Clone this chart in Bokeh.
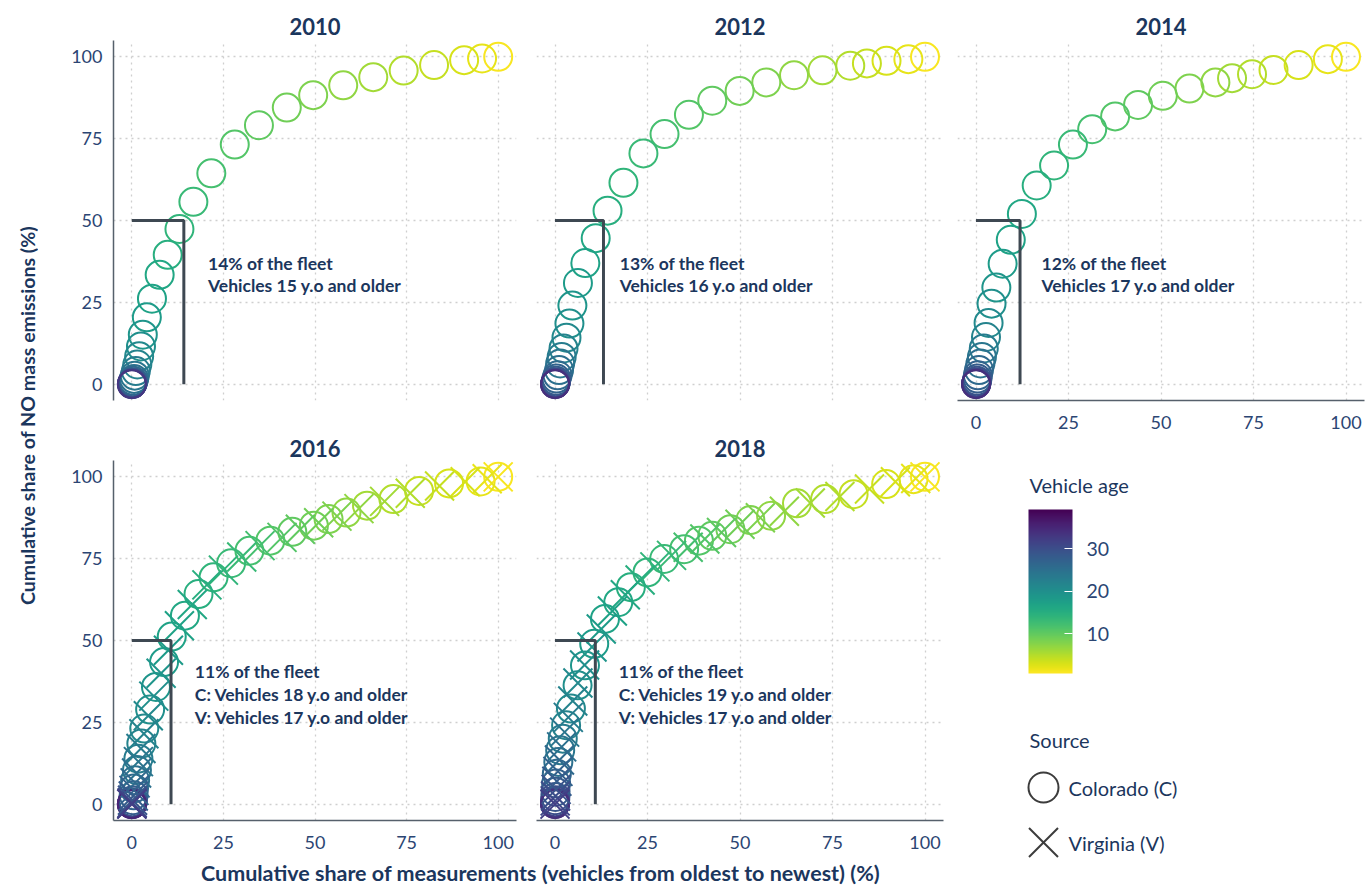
import math
from bokeh.plotting import figure
from bokeh.models import (ColumnDataSource, LinearAxis, Grid, FixedTicker, Range1d,
                          LinearColorMapper, ColorBar)
from bokeh.layouts import row, column
from bokeh.palettes import Viridis256
from bokeh.core.properties import value
from bokeh.embed import file_html
from bokeh.resources import INLINE

# ------------------------------------------------------------------ data
years = ["2010", "2012", "2014", "2016", "2018"]

# Colorado (C): cumulative share of measurements (x) and of NO mass emissions (y),
# one point per vehicle age, newest (age 1) first
co_2010_x = [100, 95.6, 90.7, 82.5, 74.2, 65.9, 57.7, 49.5, 42.3, 34.7,
             28.1, 21.7, 16.8, 13.0, 9.8, 7.6, 5.5, 4.1, 3.0, 2.5,
             2.0, 1.5, 1.1, 0.8, 0.6, 0.4, 0.3, 0.2, 0.15, 0.1,
             0.05, 0.02, 0.0]
co_2010_y = [100, 99.5, 99.0, 97.5, 95.8, 93.8, 91.3, 88.3, 84.5, 79.1,
             73.2, 64.4, 55.7, 47.4, 39.5, 33.4, 26.1, 20.4, 15.1, 11.5,
             8.5, 6.0, 4.0, 2.6, 1.6, 1.0, 0.6, 0.4, 0.25, 0.15,
             0.08, 0.03, 0.0]

co_2012_x = [100, 95.5, 89.6, 84.3, 79.8, 72.3, 64.6, 57.1, 49.9, 42.5,
             36.2, 29.6, 23.9, 18.5, 14.2, 11.0, 8.2, 6.2, 4.7, 3.9,
             3.1, 2.3, 1.8, 1.4, 1.1, 0.7, 0.4, 0.3, 0.2, 0.15,
             0.1, 0.05, 0.02, 0.0]
co_2012_y = [100, 99.3, 98.8, 98.0, 97.3, 95.9, 94.4, 92.2, 89.6, 86.6,
             82.3, 76.4, 70.5, 61.5, 53.0, 44.6, 37.0, 30.9, 24.0, 18.5,
             14.2, 10.9, 8.3, 6.3, 4.3, 2.7, 1.7, 1.0, 0.6, 0.35,
             0.2, 0.1, 0.04, 0.0]

co_2014_x = [100, 95.1, 87.2, 80.4, 74.6, 69.2, 64.7, 57.7, 50.5, 43.8,
             37.6, 31.4, 26.2, 21.1, 16.4, 12.4, 9.4, 7.2, 5.5, 4.2,
             3.4, 2.7, 2.1, 1.6, 1.2, 0.8, 0.5, 0.4, 0.25, 0.15,
             0.1, 0.05, 0.02, 0.0]
co_2014_y = [100, 99.3, 97.5, 96.0, 94.7, 93.5, 92.2, 90.3, 88.1, 85.3,
             81.8, 77.9, 73.2, 66.8, 60.7, 52.0, 44.1, 36.8, 29.5, 24.6,
             18.7, 14.4, 10.9, 8.3, 6.3, 4.3, 2.7, 1.7, 1.0, 0.6,
             0.3, 0.15, 0.05, 0.0]

co_2016_x = [100, 95.2, 86.6, 78.4, 71.4, 64.2, 58.6, 53.7, 49.7, 43.8,
             37.8, 32.1, 27.1, 22.3, 18.2, 14.5, 10.9, 8.8, 6.6, 5.0,
             3.4, 2.6, 1.8, 1.4, 0.9, 0.6, 0.5, 0.3, 0.2, 0.15,
             0.1, 0.05, 0.02, 0.0, 0.0]
co_2016_y = [100, 98.6, 98.0, 95.7, 93.2, 91.2, 89.1, 87.1, 85.1, 83.2,
             80.5, 77.4, 73.6, 69.3, 64.2, 57.6, 51.2, 43.4, 35.8, 28.9,
             23.1, 18.5, 13.9, 10.4, 7.3, 4.8, 2.7, 1.2, 0.6, 0.3,
             0.15, 0.08, 0.03, 0.01, 0.0]

co_2018_x = [100, 96.9, 89.5, 80.7, 73.0, 65.4, 58.4, 52.8, 47.4, 42.5,
             38.9, 34.9, 29.5, 25.0, 20.5, 17.1, 13.5, 10.6, 8.1, 6.1,
             4.3, 3.0, 2.1, 1.4, 0.9, 0.5, 0.3, 0.15, 0.1, 0.05,
             0.03, 0.02, 0.01, 0.0]
co_2018_y = [100, 99.3, 97.8, 94.7, 93.2, 91.9, 88.1, 86.8, 84.0, 82.0,
             80.5, 77.9, 74.9, 70.8, 66.3, 61.7, 56.6, 49.0, 42.4, 36.3,
             29.2, 24.1, 20.0, 16.5, 12.9, 9.3, 6.3, 3.8, 2.2, 1.2,
             0.6, 0.3, 0.1, 0.0]

# Virginia (V)
va_2016_x = [100, 97.0, 91.0, 84.0, 76.0, 69.0, 62.0, 56.0, 51.0, 46.0,
             41.0, 35.0, 30.0, 25.0, 20.5, 16.5, 13.0, 10.0, 8.0, 6.0,
             4.5, 3.3, 2.5, 1.8, 1.3, 0.9, 0.6, 0.4, 0.2, 0.1,
             0.05, 0.0]
va_2016_y = [100, 99.4, 98.5, 97.2, 95.0, 92.5, 90.3, 88.0, 86.0, 84.0,
             81.5, 79.0, 75.5, 71.5, 67.0, 61.0, 54.5, 47.0, 40.0, 33.0,
             27.0, 21.5, 17.0, 13.0, 9.5, 6.5, 4.2, 2.5, 1.2, 0.4,
             0.1, 0.0]

va_2018_x = [100, 97.5, 92.0, 85.0, 77.0, 69.0, 62.0, 55.5, 50.0, 45.0,
             40.5, 36.0, 31.5, 27.0, 23.0, 19.0, 15.5, 12.5, 10.0, 8.0,
             6.2, 4.8, 3.6, 2.6, 1.8, 1.2, 0.8, 0.5, 0.3, 0.15,
             0.05, 0.0]
va_2018_y = [100, 99.5, 98.5, 96.3, 94.0, 92.0, 89.5, 87.5, 85.5, 83.0,
             81.0, 78.5, 76.0, 72.5, 68.5, 64.0, 59.0, 53.5, 48.0, 42.5,
             37.0, 31.5, 26.5, 22.0, 17.5, 13.5, 10.0, 7.0, 4.5, 2.5,
             1.0, 0.0]

colorado = [(co_2010_x, co_2010_y), (co_2012_x, co_2012_y), (co_2014_x, co_2014_y),
            (co_2016_x, co_2016_y), (co_2018_x, co_2018_y)]
virginia = [None, None, None, (va_2016_x, va_2016_y), (va_2018_x, va_2018_y)]

# share of the fleet responsible for half of the emissions
fleet_share = [14.2, 13.1, 11.9, 10.7, 10.9]
emission_half = 50

annotations = [
    ["14% of the fleet", "Vehicles 15 y.o and older"],
    ["13% of the fleet", "Vehicles 16 y.o and older"],
    ["12% of the fleet", "Vehicles 17 y.o and older"],
    ["11% of the fleet", "C: Vehicles 18 y.o and older", "V: Vehicles 17 y.o and older"],
    ["11% of the fleet", "C: Vehicles 19 y.o and older", "V: Vehicles 17 y.o and older"],
]
anno_xy = [(20.8, 36.9), (17.5, 36.9), (17.7, 36.9), (17.2, 40.6), (17.2, 40.6)]

axis_ticks = [0, 25, 50, 75, 100]
age_ticks = [10, 20, 30]
age_low, age_high = 0.6, 39.2
source_names = ["Colorado (C)", "Virginia (V)"]
source_markers = ["circle", "x"]

# ------------------------------------------------------------------ style
FONT = "Lato"
NAVY = "#1b365d"
TICKC = "#2b4573"
AXISC = "#56606b"
ANNOC = "#3e4852"
GRIDC = "#cfcfcf"
CIRCLE_SIZE = 28
CROSS_SIZE = 41

mapper = LinearColorMapper(palette=list(Viridis256)[::-1], low=age_low, high=age_high)


def make_axis(dim):
    ax = LinearAxis(ticker=FixedTicker(ticks=axis_ticks))
    ax.axis_line_color = AXISC
    ax.axis_line_width = 1.5
    ax.major_tick_line_color = None
    ax.minor_tick_line_color = None
    ax.major_tick_in = 0
    ax.major_tick_out = 0
    ax.major_label_text_font = FONT
    ax.major_label_text_font_size = "18px"
    ax.major_label_text_color = TICKC
    ax.major_label_standoff = 11 if dim == "y" else 15
    return ax


def blank_fig(**kw):
    f = figure(x_axis_location=None, y_axis_location=None, toolbar_location=None,
               output_backend="svg", **kw)
    f.outline_line_color = None
    f.background_fill_color = "white"
    f.border_fill_color = "white"
    for g in f.grid:
        g.visible = False
    return f


def make_panel(i, width, height, bl, br, bt, bb, show_x, show_y, standoff):
    p = blank_fig(width=width, height=height, x_range=Range1d(-5, 105),
                  y_range=Range1d(-5, 105), min_border_left=bl, min_border_right=br,
                  min_border_top=bt, min_border_bottom=bb, title=years[i])
    p.title.align = "center"
    p.title.text_font = FONT
    p.title.text_font_size = "22px"
    p.title.text_font_style = "bold"
    p.title.text_color = NAVY
    p.title.standoff = standoff
    p.title.offset = 0
    for dim in (0, 1):
        p.add_layout(Grid(dimension=dim, ticker=FixedTicker(ticks=axis_ticks),
                          grid_line_color=GRIDC, grid_line_dash="2 4", grid_line_width=1.3),
                     "center")
    if show_y:
        p.add_layout(make_axis("y"), "left")
    if show_x:
        p.add_layout(make_axis("x"), "below")

    cx, cy = colorado[i]
    src_c = ColumnDataSource(dict(x=cx, y=cy, age=list(range(1, len(cx) + 1))))
    p.scatter("x", "y", source=src_c, marker="circle", size=CIRCLE_SIZE, fill_color=None,
              line_color={"field": "age", "transform": mapper}, line_width=2)
    if virginia[i] is not None:
        vx, vy = virginia[i]
        src_v = ColumnDataSource(dict(x=vx, y=vy, age=list(range(1, len(vx) + 1))))
        p.scatter("x", "y", source=src_v, marker="x", size=CROSS_SIZE,
                  line_color={"field": "age", "transform": mapper}, line_width=2)

    fx = fleet_share[i]
    p.line([0, fx, fx], [emission_half, emission_half, 0], line_color=ANNOC, line_width=3)

    ax_, ay_ = anno_xy[i]
    lines = annotations[i]
    gap = 22 if len(lines) == 2 else 23
    src_t = ColumnDataSource(dict(x=[ax_] * len(lines), y=[ay_] * len(lines), text=lines,
                                  off=[gap * k for k in range(len(lines))]))
    p.text("x", "y", text="text", source=src_t, y_offset="off", text_font=value(FONT),
           text_font_style="bold", text_font_size="17.5px", text_color=NAVY,
           text_baseline="middle", text_align="left")
    return p


# geometry (pixels)
W0, W1, W2, W3 = 38, 488, 424, 418
HT = 886
H1 = 428            # top row (cols 1-2)
H3 = 28             # x title
H2 = HT - H1 - H3   # bottom row (cols 1-2)
H14 = 438           # 2014 panel (has x axis)

p10 = make_panel(0, W1, H1, 75, 10, 40, H1 - 400, False, True, 12)
p12 = make_panel(1, W2, H1, 10, 7, 40, H1 - 400, False, False, 12)
p16 = make_panel(3, W1, H2, 75, 10, 460 - H1, H2 - (460 - H1) - 360, True, True, 8)
p18 = make_panel(4, W2, H2, 10, 7, 460 - H1, H2 - (460 - H1) - 360, True, False, 8)
p14 = make_panel(2, W3, H14, 7, 4, 40, H14 - 400, True, False, 12)

# legend panel: data coordinates equal page pixels (x 957..1364, y 438..886)
leg = blank_fig(width=W3, height=HT - H14, x_range=Range1d(957, 1364),
                y_range=Range1d(HT, H14), min_border_left=7, min_border_right=4,
                min_border_top=0, min_border_bottom=0)

cb = ColorBar(color_mapper=mapper, ticker=FixedTicker(ticks=age_ticks), width=44, height=164,
              location=(71, HT - 673), padding=0,
              major_label_text_font=FONT, major_label_text_font_size="19.5px",
              major_label_text_color=TICKC, label_standoff=14,
              major_tick_line_color="white", major_tick_line_width=1.2,
              major_tick_in=8, major_tick_out=0,
              minor_tick_line_color=None, bar_line_color=None, border_line_color=None,
              background_fill_color=None)
leg.add_layout(cb, "center")

leg.text([1029, 1029], [484, 739], text=["Vehicle age", "Source"], text_font=value(FONT),
         text_font_size="20px", text_color=NAVY, text_baseline="middle", text_align="left")
for k, (nm, mk) in enumerate(zip(source_names, source_markers)):
    yy = 787 + 55 * k
    leg.scatter([1043], [yy], marker=mk, size=CIRCLE_SIZE + 2 if mk == "circle" else CROSS_SIZE,
                fill_color=None, line_color="#3c3c3c", line_width=2)
    leg.text([1068], [yy], text=[nm], text_font=value(FONT), text_font_size="20px",
             text_color=NAVY, text_baseline="middle", text_align="left")

# global axis titles
ytitle = blank_fig(width=W0, height=HT, x_range=Range1d(0, W0), y_range=Range1d(0, HT),
                   min_border=0)
ytitle.text([27], [471], text=["Cumulative share of NO mass emissions (%)"], angle=math.pi / 2,
            text_font=value(FONT), text_font_size="19.6px", text_font_style="bold",
            text_color=NAVY, text_align="center", text_baseline="middle")

xtitle = blank_fig(width=W1 + W2, height=H3, x_range=Range1d(0, W1 + W2),
                   y_range=Range1d(0, H3), min_border=0)
xtitle.text([502], [14], text=["Cumulative share of measurements (vehicles from oldest to newest) (%)"],
            text_font=value(FONT), text_font_size="21.5px", text_font_style="bold",
            text_color=NAVY, text_align="center", text_baseline="middle")

layout = row(ytitle,
             column(row(p10, p12), row(p16, p18), xtitle),
             column(p14, leg))

open("out.html", "w").write(file_html(layout, INLINE))
